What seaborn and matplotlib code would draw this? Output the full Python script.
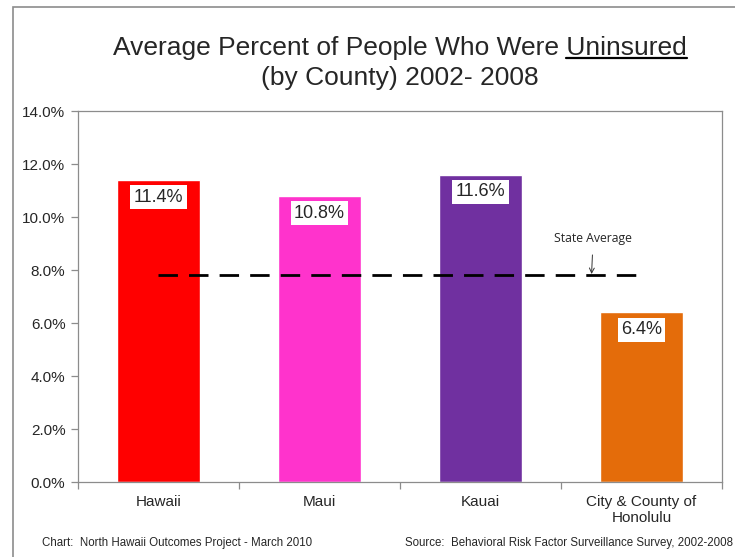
import numpy as np
import pandas as pd
import seaborn as sns
import matplotlib.pyplot as plt
from matplotlib.patches import Rectangle
from matplotlib.lines import Line2D
from matplotlib.ticker import FuncFormatter, FixedLocator

counties = ['Hawaii', 'Maui', 'Kauai', 'City & County of\nHonolulu']
uninsured = [11.4, 10.8, 11.6, 6.4]
colors = ['#FF0000', '#FF33CC', '#7030A0', '#E46C0A']
state_avg = 7.8
yticks = [0, 2, 4, 6, 8, 10, 12, 14]

sns.set_style('white')
plt.rcParams['font.family'] = ['Liberation Sans', 'DejaVu Sans']

df = pd.DataFrame({'county': counties, 'pct': uninsured})

fig = plt.figure(figsize=(7.35, 5.57), dpi=100)
ax = fig.add_axes([0.1061, 0.1346, 0.8762, 0.6661])

sns.barplot(data=df, x='county', y='pct', hue='county', palette=colors,
            width=0.51, saturation=1, legend=False, ax=ax)

ax.set_xlim(-0.5, 3.5)
ax.set_ylim(0, 14)
ax.set_yticks(yticks)
ax.yaxis.set_major_formatter(FuncFormatter(lambda v, p: f'{v:.1f}%'))
ax.set_xlabel('')
ax.set_ylabel('')
for s in ax.spines.values():
    s.set_color('#8c8c8c')
    s.set_linewidth(0.9)
ax.tick_params(axis='y', left=True, length=5, width=0.9, color='#8c8c8c',
               labelsize=11, pad=4)
ax.tick_params(axis='x', which='major', length=0, labelsize=11, pad=9)
ax.xaxis.set_minor_locator(FixedLocator([-0.5, 0.5, 1.5, 2.5, 3.5]))
ax.tick_params(axis='x', which='minor', bottom=True, length=5, width=0.9,
               color='#8c8c8c')

# value labels in white boxes
for i, v in enumerate(uninsured):
    ax.text(i, v - 0.65, f'{v:.1f}%', ha='center', va='center', fontsize=13,
            bbox=dict(facecolor='white', edgecolor='none', pad=2.5))

# state average line
ax.plot([0, 3], [state_avg, state_avg], color='black', lw=2, dashes=(7, 4))
ax.annotate('State Average', xy=(2.69, state_avg + 0.05),
            xytext=(2.70, 9.2), ha='center', va='center',
            fontsize=8.8, family='Open Sans',
            arrowprops=dict(arrowstyle='->', color='#333333', lw=0.7,
                            shrinkA=5, shrinkB=0))

t1 = fig.text(0.544, 0.913, 'Average Percent of People Who Were Uninsured',
              ha='center', va='center', fontsize=19)
fig.text(0.544, 0.860, '(by County) 2002- 2008', ha='center', va='center',
         fontsize=19)

# underline "Uninsured"
fig.canvas.draw()
r = fig.canvas.get_renderer()
bb = t1.get_window_extent(r)
w, h, d = r.get_text_width_height_descent('Uninsured', t1.get_fontproperties(), ismath=False)
W, H, D = r.get_text_width_height_descent(t1.get_text(), t1.get_fontproperties(), ismath=False)
base = bb.y0 + D
uy = base - 2.5
fig.lines.append(Line2D([(bb.x1 - w) / fig.bbox.width, bb.x1 / fig.bbox.width],
                        [uy / fig.bbox.height, uy / fig.bbox.height],
                        transform=fig.transFigure, color='black', lw=1.6))

fig.text(0.057, 0.025, 'Chart:  North Hawaii Outcomes Project - March 2010',
         ha='left', va='center', fontsize=8.3)
fig.text(0.997, 0.025, 'Source:  Behavioral Risk Factor Surveillance Survey, 2002-2008',
         ha='right', va='center', fontsize=8.3)

# outer frame
fig.patches.append(Rectangle((13 / 735, -0.1), 1.2, 1 - 7 / 557 + 0.1,
                             transform=fig.transFigure, fill=False,
                             edgecolor='#8c8c8c', lw=1.2))

fig.savefig('out.png', dpi=100)
